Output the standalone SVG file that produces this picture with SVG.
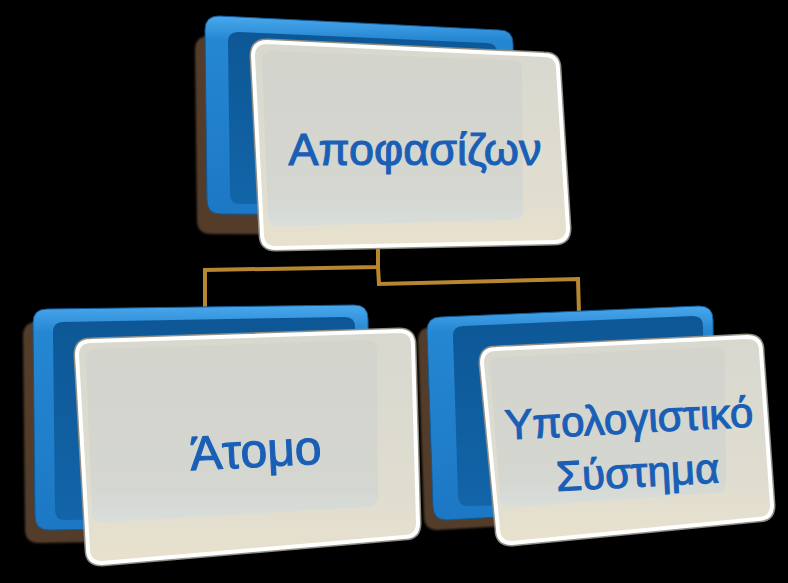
<svg xmlns="http://www.w3.org/2000/svg" width="788" height="583" viewBox="0 0 788 583">
<defs>
<linearGradient id="blueOuter" x1="0" y1="0" x2="0" y2="1">
<stop offset="0" stop-color="#4aa8ec"/>
<stop offset="0.12" stop-color="#2586d2"/>
<stop offset="1" stop-color="#1c78c4"/>
</linearGradient>
<linearGradient id="blueInner" x1="0" y1="0" x2="0" y2="1">
<stop offset="0" stop-color="#0d5796"/>
<stop offset="1" stop-color="#1265a8"/>
</linearGradient>
<linearGradient id="cardFill" x1="0" y1="0" x2="0" y2="1">
<stop offset="0" stop-color="#d8d8cf"/>
<stop offset="0.7" stop-color="#e0ddd0"/>
<stop offset="1" stop-color="#e8e1cd"/>
</linearGradient>
<linearGradient id="panelFill" x1="0" y1="0" x2="0" y2="1">
<stop offset="0" stop-color="#d2d3cc"/>
<stop offset="0.8" stop-color="#d2d5d0"/>
<stop offset="1" stop-color="#d6dedd"/>
</linearGradient>
<filter id="soft" x="-10%" y="-10%" width="120%" height="120%">
<feGaussianBlur stdDeviation="1"/>
</filter>
</defs>
<style>
.shadow{fill:#523d29;filter:url(#soft)}
.blue{fill:url(#blueOuter);stroke:#0f5a98;stroke-width:1}
.blueIn{fill:url(#blueInner)}
.rimOut{fill:none;stroke:#8f8f86;stroke-width:7}
.card{fill:url(#cardFill);stroke:#ffffff;stroke-width:4}
.panel{fill:url(#panelFill);opacity:0.85}
.label{font-family:"Liberation Sans","Noto Sans",Arial,sans-serif;fill:#1a5fb6;stroke:#1a5fb6;stroke-width:1.1;text-anchor:middle}
.conn{fill:none;stroke:#b8862e;stroke-width:4;stroke-linejoin:miter}
</style>
<rect x="0" y="0" width="788" height="583" fill="#000000"/>
<g id="connectors">
<path class="conn" d="M378,226 L378,267 L205,270 L205,312"/>
<path class="conn" d="M378,267 L379,284 L578,279 L579,314"/>
</g>
<g id="node-top">
<path class="shadow" d="M209,36 L489,50 Q503,50 503,64 L505,221 Q505,235 491,235 L211,234 Q197,234 197,220 L195,50 Q195,36 209,36 Z"/>
<path class="blue" d="M219,16 L499,30 Q513,30 513,44 L515,201 Q515,215 501,215 L221,214 Q207,214 207,200 L205,30 Q205,16 219,16 Z"/>
<path class="blueIn" d="M238,32 L487,43 Q497,43 497,53 L499,193 Q499,203 489,203 L240,204 Q230,204 230,194 L228,42 Q228,32 238,32 Z"/>
<path class="rimOut" d="M267,42 L544,55 Q558,55 558,69 L568,228 Q568,242 554,242 L276,248 Q262,248 262,234 L253,56 Q253,42 267,42 Z"/>
<path class="card" d="M267,42 L544,55 Q558,55 558,69 L568,228 Q568,242 554,242 L276,248 Q262,248 262,234 L253,56 Q253,42 267,42 Z"/>
<path class="panel" d="M272,51 L512,60 Q522,60 522,70 L523,210 Q523,220 513,220 L278,226 Q268,226 268,216 L262,61 Q262,51 272,51 Z"/>
<text class="label" x="415" y="165" font-size="45">Αποφασίζων</text>
</g>
<g id="node-atomo">
<path class="shadow" d="M37,322 L344,318 Q358,318 358,332 L360,524 Q360,538 346,538 L39,543 Q25,543 25,529 L23,336 Q23,322 37,322 Z"/>
<path class="blue" d="M47,309 L354,305 Q368,305 368,319 L370,511 Q370,525 356,525 L49,530 Q35,530 35,516 L33,323 Q33,309 47,309 Z"/>
<path class="blueIn" d="M63,322 L345,317 Q355,317 355,327 L357,505 Q357,515 347,515 L65,520 Q55,520 55,510 L53,332 Q53,322 63,322 Z"/>
<path class="rimOut" d="M91,341 L399,331 Q413,331 413,345 L418,523 Q418,537 404,537 L102,563 Q88,563 88,549 L77,355 Q77,341 91,341 Z"/>
<path class="card" d="M91,341 L399,331 Q413,331 413,345 L418,523 Q418,537 404,537 L102,563 Q88,563 88,549 L77,355 Q77,341 91,341 Z"/>
<path class="panel" d="M96,349 L367,340 Q377,340 377,350 L378,497 Q378,507 368,507 L102,522 Q92,522 92,512 L86,359 Q86,349 96,349 Z"/>
<text class="label" x="256" y="467" font-size="48" transform="rotate(-3 255 455)">Άτομο</text>
</g>
<g id="node-system">
<path class="shadow" d="M432,327 L690,316 Q704,316 704,330 L706,501 Q706,515 692,515 L438,530 Q424,530 424,516 L418,341 Q418,327 432,327 Z"/>
<path class="blue" d="M441,317 L699,306 Q713,306 713,320 L715,491 Q715,505 701,505 L447,520 Q433,520 433,506 L427,331 Q427,317 441,317 Z"/>
<path class="blueIn" d="M463,326 L693,316 Q703,316 703,326 L705,490 Q705,500 695,500 L468,506 Q458,506 458,496 L453,336 Q453,326 463,326 Z"/>
<path class="rimOut" d="M496,349 L747,337 Q761,337 761,351 L772,505 Q772,519 758,519 L512,543 Q498,543 498,529 L482,363 Q482,349 496,349 Z"/>
<path class="card" d="M496,349 L747,337 Q761,337 761,351 L772,505 Q772,519 758,519 L512,543 Q498,543 498,529 L482,363 Q482,349 496,349 Z"/>
<path class="panel" d="M500,357 L715,347 Q725,347 725,357 L726,483 Q726,493 716,493 L510,507 Q500,507 500,497 L490,367 Q490,357 500,357 Z"/>
<text class="label" font-size="42" transform="rotate(-3 632 460)"><tspan x="631" y="433">Υπολογιστικό</tspan><tspan x="637" y="487">Σύστημα</tspan></text>
</g>
</svg>
